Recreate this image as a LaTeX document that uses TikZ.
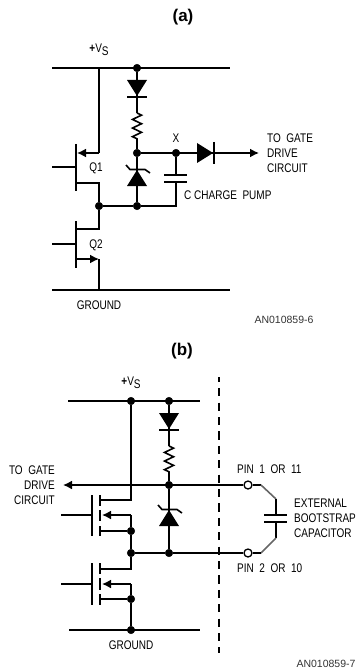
\documentclass[tikz,border=0pt]{standalone}
\usepackage{fontspec}
\setmainfont[FakeStretch=0.8]{Liberation Sans}
\newfontfamily\helv{Liberation Sans}
\usetikzlibrary{arrows.meta,decorations.pathmorphing,positioning}
\tikzset{
  wire/.style={line width=1.6pt},
  arrowed/.style={-{Latex[length=9pt,width=9pt]}},
  dot/.style={draw, circle, fill=black, inner sep=0pt, minimum size=7.6pt},
  pin/.style={draw, circle, fill=white, line width=1.3pt, inner sep=0pt, minimum size=8pt},
  lbl/.style={inner sep=0pt, font=\fontsize{12.5}{14.9}\selectfont},
  title/.style={inner sep=0pt, font=\helv\bfseries\fontsize{17}{20}\selectfont},
  partno/.style={inner sep=0pt, font=\helv\fontsize{10.5}{12}\selectfont, text=black!80},
  res/.style={wire, decorate, decoration={zigzag, segment length=8.6pt, amplitude=4.5pt}},
  diodedown/.pic={
    \fill (-10,-8) -- (10,-8) -- (0,8) -- cycle;
    \draw[wire] (-10,9) -- (10,9);
  },
  dioderight/.pic={
    \fill (-8,-10) -- (-8,10) -- (8,0) -- cycle;
    \draw[wire] (9,-11) -- (9,11);
  },
  zenerup/.pic={
    \fill (-10,8) -- (10,8) -- (0,-8) -- cycle;
    \draw[wire] (-11,-13) -- (-7,-8.5) -- (8,-8.5) -- (13,-5);
  }
}
\begin{document}
\begin{tikzpicture}[x=1pt, y=-1pt]
  \path[use as bounding box] (0,0) rectangle (356,671);

  % (a)
  \node [title] (ta) at (183,17) {(a)};
  \node [lbl] (vsa) at (99,50) {\textbf{+}V\raisebox{-3pt}{S}};
  \coordinate (a1) at (52,68);
  \coordinate (a2) at (230,68);
  \coordinate (a3) at (99,68);
  \node [dot] (a4) at (137,68) {};
  \draw [wire] (a1) -- (a2);
  \coordinate (r1) at (137,113);
  \coordinate (r2) at (137,140);
  \node [dot] (a5) at (137,153) {};
  \node [dot] (ax) at (176,153) {};
  \node [dot] (a6) at (137,206) {};
  \node [dot] (a7) at (99,206) {};
  \node [lbl, above = 6pt of ax] (xl) {X};
  \draw [wire] (a4) -- (r1);
  \draw [res] (r1) -- (r2);
  \draw [wire] (r2) -- (a5) -- (a6);
  \pic at (137,88) {diodedown};
  \pic at (137,178) {zenerup};
  \coordinate (af) at (259,153);
  \draw [wire, arrowed] (a5) -- (af);
  \pic at (205,153) {dioderight};
  \node [lbl, align=left, anchor=west] (tga) at (267,153) {TO\ \ GATE\\DRIVE\\CIRCUIT};
  % charge pump
  \coordinate (c1) at (176,175);
  \coordinate (c2) at (176,182);
  \coordinate (c1l) at (164,175);
  \coordinate (c1r) at (187,175);
  \coordinate (c2l) at (164,182);
  \coordinate (c2r) at (187,182);
  \coordinate (c3) at (176,206);
  \draw [wire] (ax) -- (c1);
  \draw [wire] (c1l) -- (c1r);
  \draw [wire] (c2l) -- (c2r);
  \draw [wire] (c2) -- (c3) -- (a6) -- (a7);
  \node [lbl, anchor=west] (cp) at (184,195) {C CHARGE\ \ PUMP};
  % Q1
  \coordinate (q1a) at (76,144);
  \coordinate (q1b) at (76,191);
  \coordinate (q1g) at (52,167);
  \coordinate (q1h) at (76,167);
  \coordinate (q1s) at (99,153);
  \coordinate (q1t) at (77,153);
  \coordinate (q1d) at (99,183);
  \coordinate (q1e) at (76,183);
  \draw [wire] (q1a) -- (q1b);
  \draw [wire] (q1g) -- (q1h);
  \draw [wire] (a3) -- (q1s);
  \draw [wire, arrowed] (q1s) -- (q1t);
  \draw [wire] (q1e) -- (q1d) -- (a7);
  \node [lbl, anchor=center] (q1) at (96,168) {Q1};
  % Q2
  \coordinate (q2a) at (76,221);
  \coordinate (q2b) at (76,268);
  \coordinate (q2g) at (52,244);
  \coordinate (q2h) at (76,244);
  \coordinate (q2d) at (99,229);
  \coordinate (q2e) at (76,229);
  \coordinate (q2s) at (76,259);
  \coordinate (q2t) at (99,259);
  \coordinate (a8) at (52,290);
  \coordinate (a9) at (230,290);
  \coordinate (a10) at (99,290);
  \draw [wire] (q2a) -- (q2b);
  \draw [wire] (q2g) -- (q2h);
  \draw [wire] (a7) -- (q2d) -- (q2e);
  \draw [wire, arrowed] (q2s) -- (q2t);
  \draw [wire] (q2t) -- (a10);
  \draw [wire] (a8) -- (a9);
  \node [lbl] (q2) at (96,245) {Q2};
  \node [lbl, below = 11pt of a10] (gnda) {GROUND};
  \node [partno] (pa) at (284,320) {AN010859-6};

  % (b)
  \node [title] (tb) at (182,351) {(b)};
  \node [lbl] (vsb) at (131,383) {\textbf{+}V\raisebox{-3pt}{S}};
  \coordinate (b1) at (68,401);
  \coordinate (b2) at (200,401);
  \node [dot] (b3) at (131,401) {};
  \node [dot] (b4) at (169,401) {};
  \draw [wire] (b1) -- (b2);
  \coordinate (s1) at (169,446);
  \coordinate (s2) at (169,473);
  \node [dot] (b5) at (169,485) {};
  \node [dot] (b6) at (169,553) {};
  \node [dot] (b7) at (131,553) {};
  \draw [wire] (b4) -- (s1);
  \draw [res] (s1) -- (s2);
  \draw [wire] (s2) -- (b5) -- (b6);
  \pic at (169,421) {diodedown};
  \pic at (169,518) {zenerup};
  \coordinate (bf) at (63,485);
  \node [pin] (p1) at (248,485) {};
  \node [pin] (p2) at (248,553) {};
  \draw [wire, arrowed] (p1) -- (bf);
  \draw [wire] (p2) -- (b6) -- (b7);
  \node [lbl, align=right, anchor=east] (tgb) at (55,485) {TO\ \ GATE\\DRIVE\\CIRCUIT};
  \node [lbl, anchor=west] (p1l) at (237,469) {PIN\ \ 1\ \ OR\ \ 11};
  \node [lbl, anchor=west] (p2l) at (237,568) {PIN\ \ 2\ \ OR\ \ 10};
  % bootstrap capacitor
  \coordinate (e1) at (261,485);
  \coordinate (e2) at (276,499);
  \coordinate (e3) at (276,515);
  \coordinate (e4) at (276,522);
  \coordinate (e5) at (276,538);
  \coordinate (e6) at (261,553);
  \coordinate (e7) at (264,515);
  \coordinate (e8) at (287,515);
  \coordinate (e9) at (264,522);
  \coordinate (e10) at (287,522);
  \draw [wire] (p1) -- (e1);
  \draw [wire, black!60] (e1) -- (e2);
  \draw [wire] (e2) -- (e3);
  \draw [wire] (e7) -- (e8);
  \draw [wire] (e9) -- (e10);
  \draw [wire] (e4) -- (e5);
  \draw [wire, black!60] (e5) -- (e6);
  \draw [wire] (e6) -- (p2);
  \node [lbl, align=left, anchor=west] (ext) at (294,518) {EXTERNAL\\BOOTSTRAP\\CAPACITOR};
  % dashed line
  \coordinate (l1) at (219,377);
  \coordinate (l2) at (219,653);
  \draw [wire, dash pattern=on 8.2pt off 6.2pt, dash phase=3.2pt] (l1) -- (l2);
  % upper fet
  \coordinate (m1a) at (92,495);
  \coordinate (m1b) at (92,536);
  \coordinate (m1g) at (61,515);
  \coordinate (m1h) at (92,515);
  \coordinate (m1c) at (100,495);
  \coordinate (m1d) at (100,506);
  \coordinate (m1e) at (100,510);
  \coordinate (m1f) at (100,521);
  \coordinate (m1i) at (100,526);
  \coordinate (m1j) at (100,536);
  \coordinate (m1k) at (100,500);
  \coordinate (m1l) at (131,500);
  \coordinate (m1m) at (131,515);
  \coordinate (m1n) at (102,515);
  \coordinate (m1o) at (100,531);
  \node [dot] (m1p) at (131,531) {};
  \draw [wire] (m1a) -- (m1b);
  \draw [wire] (m1g) -- (m1h);
  \draw [wire] (m1c) -- (m1d);
  \draw [wire] (m1e) -- (m1f);
  \draw [wire] (m1i) -- (m1j);
  \draw [wire] (b3) -- (m1l) -- (m1k);
  \draw [wire, arrowed] (m1m) -- (m1n);
  \draw [wire] (m1o) -- (m1p);
  \draw [wire] (m1m) -- (m1p) -- (b7);
  % lower fet
  \coordinate (m2a) at (92,563);
  \coordinate (m2b) at (92,605);
  \coordinate (m2g) at (61,584);
  \coordinate (m2h) at (92,584);
  \coordinate (m2c) at (100,563);
  \coordinate (m2d) at (100,574);
  \coordinate (m2e) at (100,578);
  \coordinate (m2f) at (100,590);
  \coordinate (m2i) at (100,594);
  \coordinate (m2j) at (100,605);
  \coordinate (m2k) at (100,569);
  \coordinate (m2l) at (131,569);
  \coordinate (m2m) at (131,584);
  \coordinate (m2n) at (102,584);
  \coordinate (m2o) at (100,599);
  \node [dot] (m2p) at (131,599) {};
  \node [dot] (b8) at (131,630) {};
  \coordinate (b9) at (69,630);
  \coordinate (b10) at (200,630);
  \draw [wire] (m2a) -- (m2b);
  \draw [wire] (m2g) -- (m2h);
  \draw [wire] (m2c) -- (m2d);
  \draw [wire] (m2e) -- (m2f);
  \draw [wire] (m2i) -- (m2j);
  \draw [wire] (b7) -- (m2l) -- (m2k);
  \draw [wire, arrowed] (m2m) -- (m2n);
  \draw [wire] (m2o) -- (m2p);
  \draw [wire] (m2m) -- (m2p) -- (b8);
  \draw [wire] (b9) -- (b10);
  \node [lbl, below = 11pt of b8.center] (gndb) {GROUND};
  \node [partno] (pb) at (326,664) {AN010859-7};
\end{tikzpicture}
\end{document}
